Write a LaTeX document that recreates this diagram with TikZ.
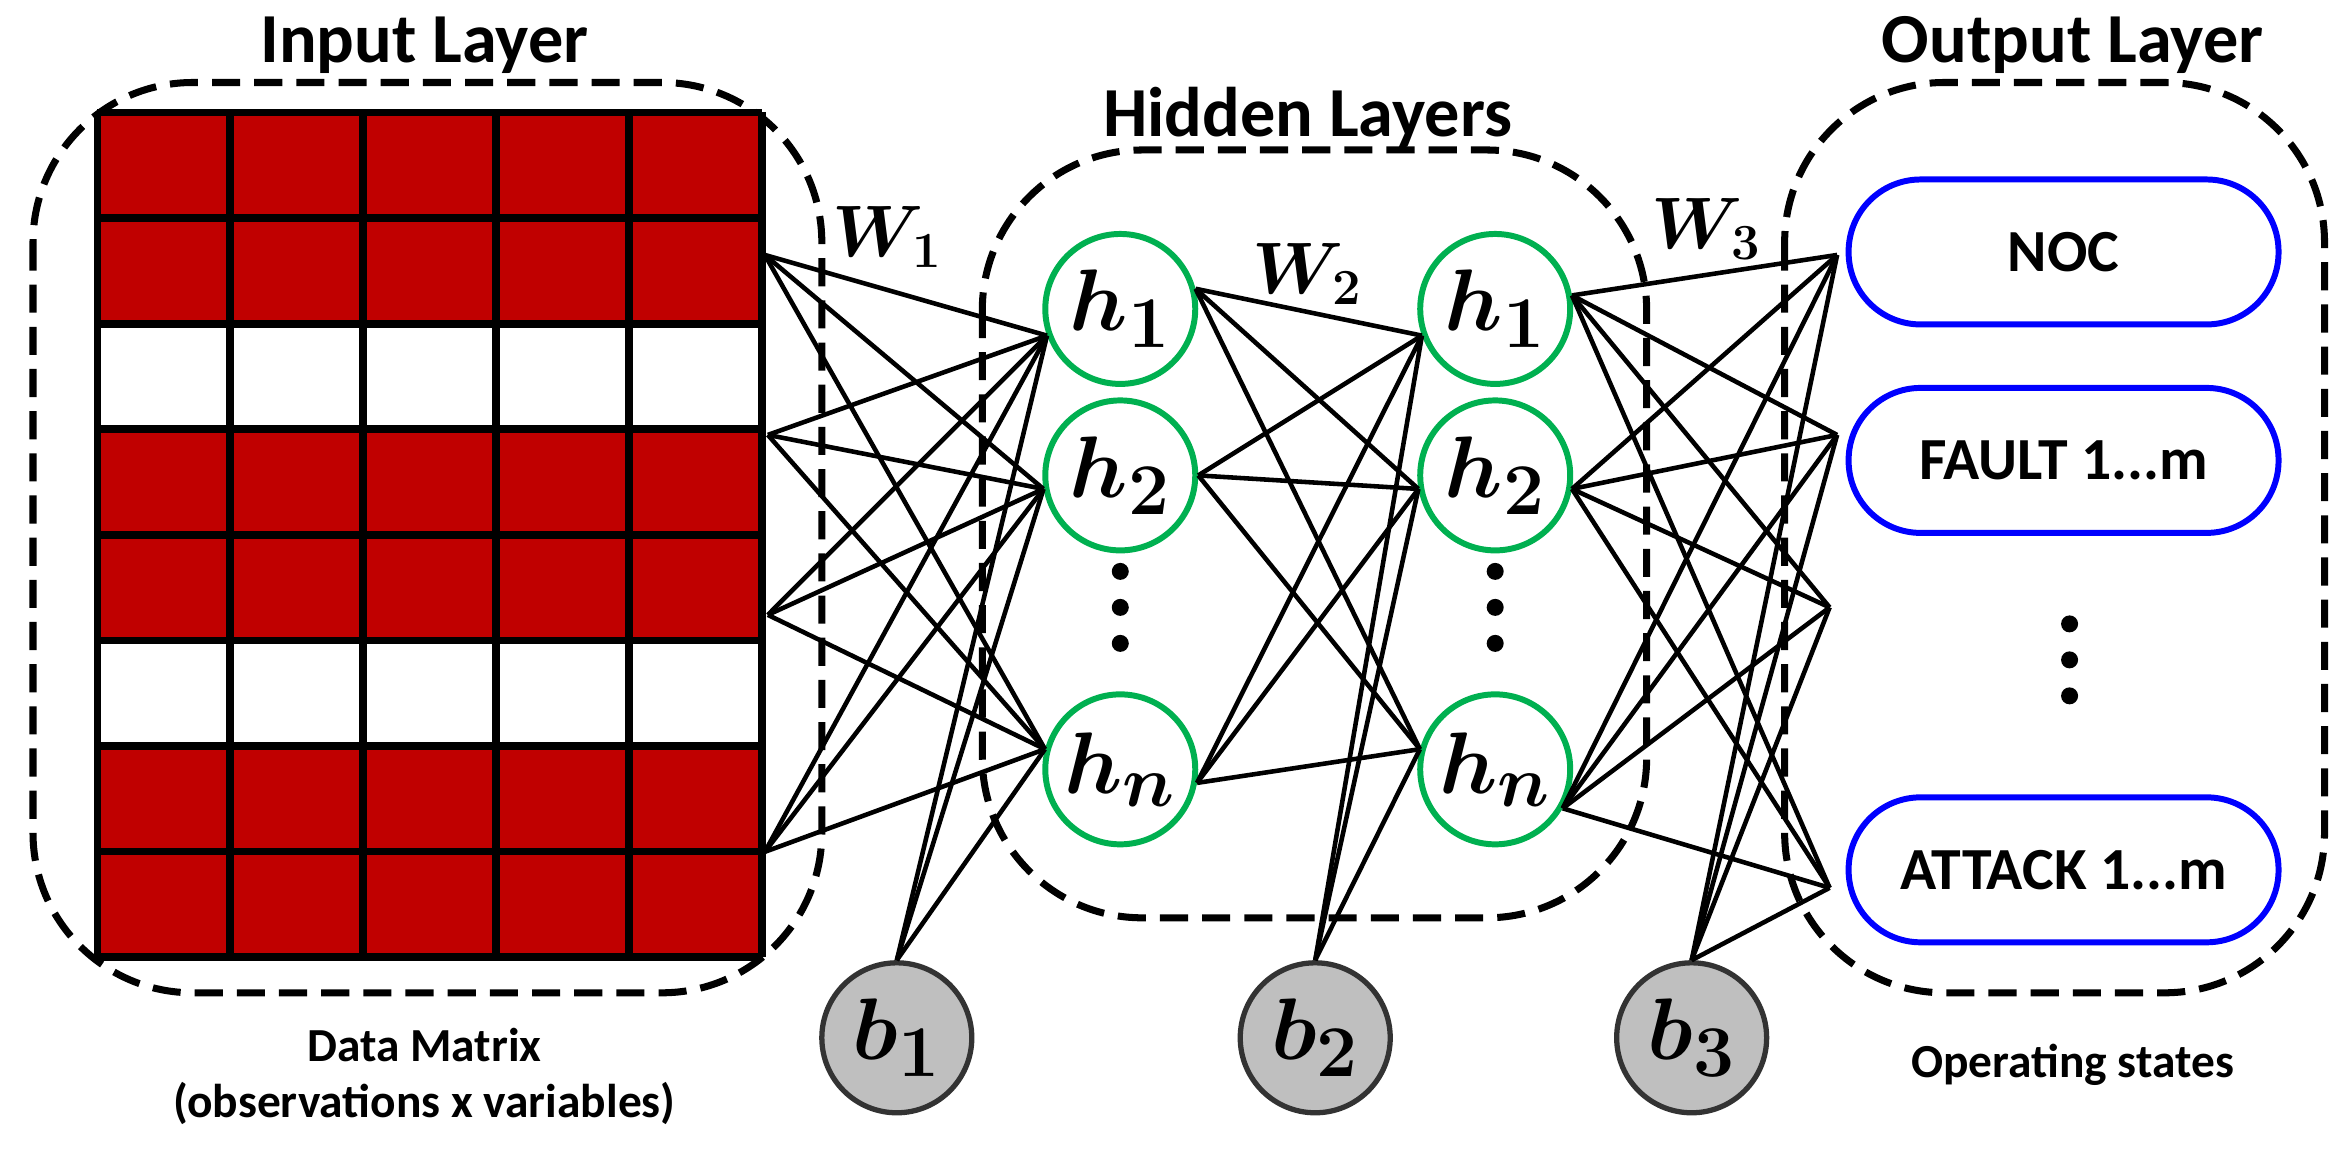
\documentclass[tikz,border=0pt]{standalone}
\usepackage{fontspec}
\usepackage{amsmath,bm}
\setmainfont{Carlito}
\definecolor{cellred}{RGB}{192,0,0}
\definecolor{hgreen}{RGB}{0,176,80}
\begin{document}
\begin{tikzpicture}[x=0.015cm,y=-0.015cm,
  box/.style={draw,line width=2pt,dash pattern=on 8pt off 4pt,rounded corners=1.6cm},
  hid/.style={circle,draw=hgreen,line width=1.7pt,minimum size=1.5cm,inner sep=0pt,font=\fontsize{30}{32}\selectfont},
  bias/.style={circle,draw=black!80,fill=black!25,line width=1.5pt,minimum size=1.5cm,inner sep=0pt,font=\fontsize{30}{32}\selectfont},
  outn/.style={draw=blue,line width=1.7pt,rounded corners=0.72cm,minimum width=4.3cm,minimum height=1.45cm,font=\bfseries\fontsize{17}{19}\selectfont},
  con/.style={line width=1.3pt},
  dot/.style={circle,fill=black,inner sep=0pt,minimum size=0.17cm},
  ttl/.style={font=\bfseries\fontsize{20}{22}\selectfont},
  lbl/.style={font=\bfseries\fontsize{13.5}{16}\selectfont,align=center},
  wl/.style={font=\fontsize{20}{22}\selectfont}]
\useasboundingbox (0,0) rectangle (1557,776);
% boxes
\draw[box] (22,55) rectangle (548,662);
\draw[box] (655,100) rectangle (1098,612);
\draw[box] (1190,55) rectangle (1550,662);
% matrix
\foreach \r in {0,...,7}{
  \pgfmathsetmacro{\yy}{75+\r*70.4}
  \foreach \c in {0,...,4}{
    \pgfmathsetmacro{\xx}{65+\c*88.6}
    \ifnum\r=2 \def\fc{white}\else\ifnum\r=5 \def\fc{white}\else\def\fc{cellred}\fi\fi
    \fill[\fc] (\xx,\yy) rectangle ++(88.6,70.4);
  }}
\foreach \r in {0,...,8}{\draw[line width=2.2pt] (65,{75+\r*70.4}) -- (508,{75+\r*70.4});}
\foreach \c in {0,...,5}{\draw[line width=2.2pt] ({65+\c*88.6},75) -- ({65+\c*88.6},638);}
% titles
\node[ttl] (t1) at (283,30) {Input Layer};
\node[ttl] (t2) at (872,78) {Hidden Layers};
\node[ttl] (t3) at (1382,30) {Output Layer};
\node[lbl] (t4) at (283,718) {Data Matrix\\(observations x variables)};
\node[lbl] (t5) at (1382,710) {Operating states};
% hidden nodes
\node[hid] (a1) at (747,206) {$\bm{h_1}$};
\node[hid] (a2) at (747,317) {$\bm{h_2}$};
\node[hid] (an) at (747,513) {$\bm{h_n}$};
\node[hid] (c1) at (997,206) {$\bm{h_1}$};
\node[hid] (c2) at (997,317) {$\bm{h_2}$};
\node[hid] (cn) at (997,513) {$\bm{h_n}$};
\foreach \x/\y/\n in {747/405/d1,997/405/d2,1380/440/d3}{
  \node[dot] (\n a) at (\x,\y-24) {};
  \node[dot] (\n b) at (\x,\y) {};
  \node[dot] (\n c) at (\x,\y+24) {};}
% bias
\node[bias] (b1) at (598,692) {$\bm{b_1}$};
\node[bias] (b2) at (877,692) {$\bm{b_2}$};
\node[bias] (b3) at (1128,692) {$\bm{b_3}$};
% outputs
\node[outn] (n1) at (1376,168) {NOC};
\node[outn] (n2) at (1376,307) {FAULT 1...m};
\node[outn] (n3) at (1376,580) {ATTACK 1...m};
% W labels
\node[wl] (w1) at (592,158) {$\bm{W_1}$};
\node[wl] (w2) at (872,183) {$\bm{W_2}$};
\node[wl] (w3) at (1138,153) {$\bm{W_3}$};
% coordinates
\coordinate (i1) at (510,170);
\coordinate (i2) at (512,290);
\coordinate (i3) at (512,410);
\coordinate (i4) at (510,568);
\coordinate (o1) at (1225,170);
\coordinate (o2) at (1225,290);
\coordinate (o3) at (1220,405);
\coordinate (o4) at (1220,592);
% layer 1
\foreach \i in {i1,i2,i3,i4}{
  \draw[con] (\i) -- (a1.200); \draw[con] (\i) -- (a2.190); \draw[con] (\i) -- (an.165);}
\foreach \h/\a in {a1/200,a2/190,an/165}{\draw[con] (b1.north) -- (\h.\a);}
% layer 2
\foreach \s/\sa in {a1/15,a2/0,an/-10}{
  \draw[con] (\s.\sa) -- (c1.200); \draw[con] (\s.\sa) -- (c2.190); \draw[con] (\s.\sa) -- (cn.165);}
\foreach \h/\a in {c1/200,c2/190,cn/165}{\draw[con] (b2.north) -- (\h.\a);}
% layer 3
\foreach \s/\sa in {c1/10,c2/-10,cn/-30}{
  \foreach \o in {o1,o2,o3,o4}{\draw[con] (\s.\sa) -- (\o);}}
\foreach \o in {o1,o2,o3,o4}{\draw[con] (b3.north) -- (\o);}
\end{tikzpicture}
\end{document}
